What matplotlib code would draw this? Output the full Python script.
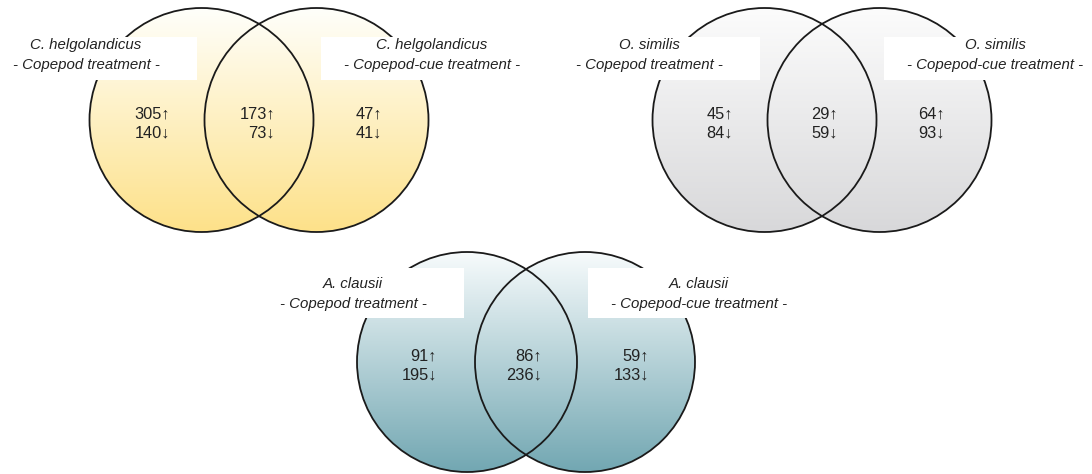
import numpy as np
import matplotlib
matplotlib.use("Agg")
import matplotlib.pyplot as plt
from matplotlib.patches import Circle, Rectangle
from matplotlib.colors import LinearSegmentedColormap

# ==========================
# Data
# ==========================
species = ["C. helgolandicus", "O. similis", "A. clausii"]
left_label = "- Copepod treatment -"
right_label = "- Copepod-cue treatment -"

# regions: copepod only, shared, copepod-cue only
up_helgo = [305, 173, 47]
down_helgo = [140, 73, 41]
up_similis = [45, 29, 64]
down_similis = [84, 59, 93]
up_clausii = [91, 86, 59]
down_clausii = [195, 236, 133]

up_counts = [up_helgo, up_similis, up_clausii]
down_counts = [down_helgo, down_similis, down_clausii]

# ==========================
# Layout (pixel coords, y down)
# ==========================
# (lens centre x, centre y, radius, distance between centres)
venns = [(259, 120, 112, 115), (822, 120, 112, 115), (526, 362, 110, 118)]
# label box top / bottom
boxes_y = [(37, 80), (37, 80), (268, 318)]
label_y = [(45, 65), (45, 65), (284, 304)]
top_colors = ["#FFFFFB", "#FCFCFC", "#F7FBFC"]
bottom_colors = ["#FDE189", "#D8D8DA", "#72A7B2"]

W, H = 1092, 474
fig = plt.figure(figsize=(W / 100, H / 100), dpi=100)
ax = fig.add_axes([0, 0, 1, 1])
ax.set_xlim(0, W)
ax.set_ylim(H, 0)
ax.axis("off")

num_font = ["Liberation Sans", "DejaVu Sans"]
lab_font = ["Liberation Sans", "DejaVu Sans"]

for i, (mx, cy, r, d) in enumerate(venns):
    cmap = LinearSegmentedColormap.from_list("g", [top_colors[i], bottom_colors[i]])
    grad = np.linspace(0, 1, 256).reshape(-1, 1)
    centres = [mx - d / 2, mx + d / 2]
    for cx in centres:
        circ = Circle((cx, cy), r, facecolor="none", edgecolor="none")
        ax.add_patch(circ)
        im = ax.imshow(grad, cmap=cmap, aspect="auto",
                       extent=(cx - r, cx + r, cy + r, cy - r), zorder=1)
        im.set_clip_path(circ)
    for cx in centres:
        ax.add_patch(Circle((cx, cy), r, facecolor="none", edgecolor="#1a1a1a",
                            lw=1.3, zorder=2))

    # white label boxes over the circles
    y0, y1 = boxes_y[i]
    ax.add_patch(Rectangle((mx - 270, y0), 208, y1 - y0, facecolor="white",
                           edgecolor="none", zorder=3))
    ax.add_patch(Rectangle((mx + 62, y0), 208, y1 - y0, facecolor="white",
                           edgecolor="none", zorder=3))

    ly1, ly2 = label_y[i]
    for sx, lab in [(mx - 173, left_label), (mx + 173, right_label)]:
        ax.text(sx, ly1, species[i], style="italic", fontsize=10.8, family=lab_font,
                ha="center", va="center", color="#222222", zorder=4)
        ax.text(sx, ly2, lab, style="italic", fontsize=10.8, family=lab_font,
                ha="center", va="center", color="#222222", zorder=4)

    # counts
    for k, ox in enumerate([-89, 16, 123]):
        ax.text(mx + ox, cy - 6, f"{up_counts[i][k]}\u2191", fontsize=11.8,
                family=num_font, ha="right", va="center", color="#222222", zorder=4)
        ax.text(mx + ox, cy + 13, f"{down_counts[i][k]}\u2193", fontsize=11.8,
                family=num_font, ha="right", va="center", color="#222222", zorder=4)

fig.savefig("out.png", dpi=100)
